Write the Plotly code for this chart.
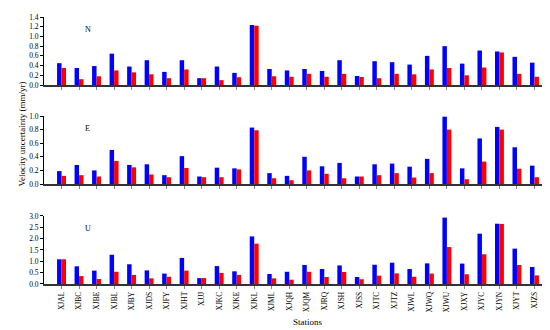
import plotly.graph_objects as go
from plotly.subplots import make_subplots

stations = ["XJAL","XJBC","XJBE","XJBL","XJBY","XJDS","XJFY","XJHT","XJJJ","XJKC",
            "XJKE","XJKL","XJML","XJQH","XJQM","XJRQ","XJSH","XJSS","XJTC","XJTZ",
            "XJWL","XJWQ","XJWU","XJXY","XJYC","XJYN","XJYT","XJZS"]

n_blue = [0.45,0.35,0.39,0.645,0.38,0.51,0.27,0.51,0.14,0.38,0.25,1.235,0.33,0.30,
          0.33,0.29,0.51,0.185,0.49,0.47,0.42,0.60,0.80,0.44,0.71,0.69,0.58,0.46]
n_red = [0.35,0.12,0.18,0.30,0.26,0.22,0.14,0.32,0.14,0.10,0.16,1.22,0.18,0.17,
         0.23,0.17,0.23,0.165,0.14,0.23,0.22,0.32,0.35,0.20,0.36,0.67,0.23,0.17]
e_blue = [0.19,0.28,0.20,0.50,0.28,0.29,0.13,0.41,0.11,0.24,0.23,0.83,0.16,0.12,
          0.40,0.26,0.31,0.11,0.29,0.30,0.255,0.37,0.99,0.23,0.67,0.84,0.54,0.27]
e_red = [0.12,0.13,0.11,0.34,0.245,0.14,0.10,0.235,0.10,0.10,0.215,0.79,0.085,0.055,
         0.20,0.15,0.085,0.11,0.13,0.16,0.095,0.16,0.80,0.07,0.33,0.80,0.225,0.10]
u_blue = [1.09,0.78,0.59,1.29,0.87,0.60,0.46,1.15,0.26,0.79,0.56,2.10,0.44,0.54,
          0.84,0.66,0.82,0.31,0.85,0.94,0.66,0.91,2.93,0.90,2.22,2.66,1.56,0.75]
u_red = [1.09,0.35,0.22,0.54,0.40,0.25,0.32,0.59,0.26,0.49,0.40,1.78,0.25,0.19,
         0.54,0.31,0.53,0.21,0.37,0.47,0.32,0.46,1.63,0.43,1.31,2.65,0.84,0.38]

panels = [("N", n_blue, n_red, [0, 1.4], 0.2),
          ("E", e_blue, e_red, [0, 1.0], 0.2),
          ("U", u_blue, u_red, [0, 3.0], 0.5)]

fig = make_subplots(rows=3, cols=1, vertical_spacing=0.05)
font = "Liberation Serif, Times New Roman, serif"
# plot area: top y=9, bottom y=276 (267 px)
domains = [[0.7453, 1.0], [0.3745, 0.6292], [0.0, 0.2547]]

for i, (lab, b, r, rng, dt) in enumerate(panels):
    row = i + 1
    fig.add_trace(go.Bar(x=stations, y=b, marker_color="#0000FF", marker_line_width=0,
                         showlegend=False), row=row, col=1)
    fig.add_trace(go.Bar(x=stations, y=r, marker_color="#FF0000", marker_line_width=0,
                         showlegend=False), row=row, col=1)
    fig.update_yaxes(range=rng, dtick=dt, tickformat=".1f", showline=True, linecolor="black",
                     linewidth=1, ticks="outside", ticklen=3, tickcolor="black",
                     showgrid=False, zeroline=False, domain=domains[i], automargin=False,
                     tickfont=dict(family=font, size=7.5, color="black"), row=row, col=1)
    fig.update_xaxes(range=[-1.0, 28.0], showline=True, linecolor="#333333", linewidth=1.5,
                     ticks="outside", ticklen=3, tickcolor="#888888", showgrid=False,
                     showticklabels=(row == 3), tickangle=-90, automargin=False,
                     tickfont=dict(family=font, size=7.5, color="black"), row=row, col=1)
    yref = "y domain" if row == 1 else f"y{row} domain"
    xref = "x domain" if row == 1 else f"x{row} domain"
    fig.add_annotation(text=lab, x=0.077, y=0.91, xref=xref, yref=yref, showarrow=False,
                       font=dict(family=font, size=8, color="black"))

fig.add_annotation(text="Velocity uncertainty (mm/yr)", x=-0.057, y=0.56, xref="paper",
                   yref="paper", textangle=-90, showarrow=False,
                   font=dict(family=font, size=9, color="black"))
fig.add_annotation(text="Stations", x=0.52, y=-0.168, xref="paper", yref="paper",
                   showarrow=False, font=dict(family=font, size=9, color="black"))

fig.update_layout(width=550, height=330, margin=dict(l=36, r=6, t=9, b=54),
                  barmode="group", bargap=0.49, bargroupgap=0,
                  plot_bgcolor="white", paper_bgcolor="white")
fig.write_html("out.html")
